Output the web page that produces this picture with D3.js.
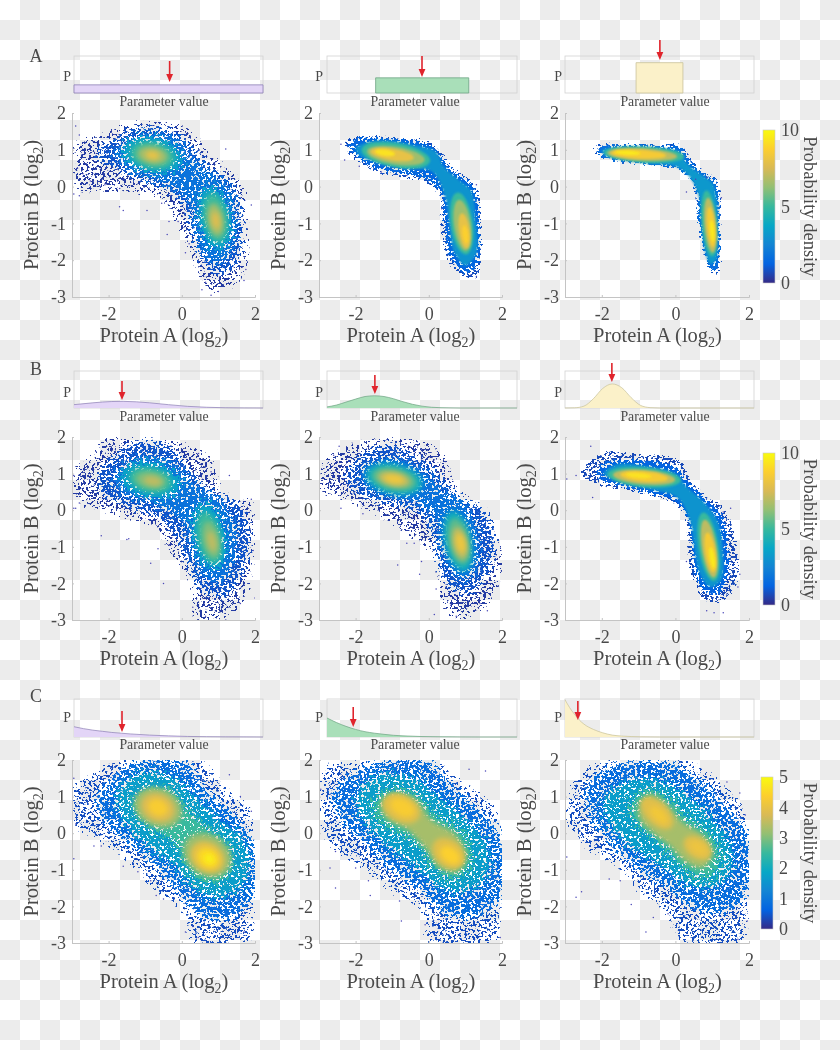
<!DOCTYPE html>
<html><head><meta charset="utf-8">
<style>html,body{margin:0;padding:0;background:#fff}svg{display:block;filter:blur(.45px)}text{font-family:"Liberation Serif",serif;fill:#4a4a4a}</style>
<script src="https://cdn.jsdelivr.net/npm/d3@7/dist/d3.min.js"></script></head><body>
<script>
// Density clouds are stored as iso-density outlines: [level, [x,y, x,y, ...]] and
// ellipses [level, cx, cy, rx, ry, tiltDeg], plus stray points. Grain on the fringes is only a render texture.
const xTicks=[-2,0,2], yTicks=[2,1,0,-1,-2,-3];
const rowLetters=["A","B","C"];
const barTicksAB=[0,5,10], barTicksC=[0,1,2,3,4,5];
const parula=["#352a87","#0363e1","#1485d4","#06a7c6","#38b99e","#92bf73","#d9ba56","#fcce2e","#f9fb0e"];
const priorFill=["#e3d5f7","#a9dfb9","#fbf1c9"], priorStroke=["#8d80b5","#6fa585","#c9c39b"];

const A1_prior=[[-3,.22],[2,.22]], A2_prior=[[-1.72,0],[-1.72,.41],[.73,.41],[.73,0]], A3_prior=[[-1.12,0],[-1.12,.82],[.12,.82],[.12,0]];
const B1_prior=[[-3,.09],[-2.5,.14],[-2,.175],[-1.7,.18],[-1,.14],[-.5,.09],[0,.045],[.5,.02],[1,.007],[1.5,.002],[2,0]];
const B2_prior=[[-3,.03],[-2.75,.08],[-2.5,.16],[-2.25,.24],[-2,.31],[-1.75,.33],[-1.5,.31],[-1.25,.25],[-1,.17],[-.75,.1],[-.5,.05],[-.25,.02],[0,.008],[.5,0],[2,0]];
const B3_prior=[[-3,0],[-2.75,.005],[-2.5,.05],[-2.25,.25],[-2,.53],[-1.75,.65],[-1.5,.55],[-1.25,.28],[-1,.07],[-.75,.01],[-.5,0],[2,0]];
const C1_prior=[[-3,.27],[-2.75,.22],[-2.5,.18],[-2.25,.15],[-2,.12],[-1.75,.1],[-1.5,.08],[-1,.05],[-.5,.03],[0,.015],[.5,.008],[1,.004],[2,0]];
const C2_prior=[[-3,.5],[-2.75,.38],[-2.5,.28],[-2.25,.2],[-2,.14],[-1.75,.1],[-1.5,.07],[-1.25,.045],[-1,.03],[-.5,.012],[0,.005],[.5,.002],[1,0],[2,0]];
const C3_prior=[[-3,.98],[-2.875,.77],[-2.75,.6],[-2.625,.45],[-2.5,.34],[-2.25,.2],[-2,.11],[-1.75,.05],[-1.5,.025],[-1.25,.012],[-1,.005],[-.5,0],[2,0]];
const arrowValues=[[-.47,-.5,-.49],[-1.73,-1.74,-1.76],[-1.73,-2.31,-2.66]];

const A1_contours=[
[.4,[-2.9,1.3,-2.3,1.4,-1.7,1.75,-.8,1.8,.3,1.6,.7,1,1.3,.55,1.75,0,1.85,-1,1.8,-2.2,1.5,-2.7,.9,-2.95,.45,-2.6,.2,-1.8,-.2,-1,-.6,-.4,-1.5,-.2,-2.9,-.1]],
[.9,[-2.3,1.1,-1.9,1.3,-1.4,1.6,-.7,1.65,0,1.45,.4,1,.8,.55,1.3,.25,1.6,-.3,1.7,-1.2,1.6,-2,1.2,-2.4,.7,-2.3,.4,-1.8,.2,-1.1,0,-.5,-.5,-.1,-1.2,.15,-1.9,.5,-2.3,.7]],
[1.8,[-1.9,.95,-1.5,1.3,-.8,1.5,-.1,1.3,.3,.8,.8,.35,1.3,0,1.5,-.8,1.45,-1.6,1.05,-2.1,.6,-1.9,.35,-1.2,.2,-.5,-.3,0,-1,.25,-1.6,.55]]];
const A1_ellipses=[[3.5,-.8,.85,.85,.5,12],[5,-.8,.85,.62,.36,12],[6.5,-.8,.85,.42,.24,10],[8,-.8,.85,.2,.12,10],
[3.5,.9,-.85,.45,.9,-10],[5,.92,-.85,.33,.68,-10],[6.5,.92,-.9,.22,.45,-10],[7.7,.93,-.92,.11,.24,-10]];
const A1_strays=[[-3,.7],[-2.9,1.65],[-2.85,.5],[-2.8,1.4],[-2.7,.35],[-2.95,-.2],[-2.8,-.25],[-2.5,.15],[-2.1,.05],[-1.7,-.05],[-1.6,-.65],[-1.7,-.55],[-.95,-.65],[-.55,-.45],[-.35,-.95],[-.1,-.95],[-.4,-1.3],[.1,-1.8],[.2,-1.55],[1.2,1.02],[.55,-2.8],[.65,-2.6],[.8,-2.95],[1,-2.85],[1.75,-2.25],[1.7,-2.55],[1.9,-.5]];

const A2_contours=[
[.8,[-2.35,1.15,-2.1,1.35,-1.5,1.4,-.6,1.35,0,1.25,.4,.9,.7,.5,1.15,.2,1.4,-.2,1.45,-1,1.45,-2,1.35,-2.45,1,-2.5,.55,-2.1,.35,-1.4,.3,-.8,.3,-.3,-.1,.1,-.8,.25,-1.5,.4,-2.1,.8]],
[1.4,[-2.2,1.1,-2,1.3,-1.4,1.33,-.6,1.28,0,1.15,.35,.8,.7,.4,1.1,.15,1.33,-.3,1.38,-1,1.38,-1.9,1.2,-2.3,.9,-2.3,.6,-1.95,.45,-1.3,.4,-.7,.35,-.2,-.1,.2,-.8,.35,-1.5,.5,-2,.85]],
[3,[-2,1.05,-1.4,1.25,-.5,1.15,.2,.95,.4,.55,.8,.2,1.15,-.1,1.28,-.9,1.3,-1.8,1,-2.15,.7,-1.8,.55,-1,.45,-.3,.1,.4,-.6,.5,-1.4,.65,-1.9,.85]]];
const A2_ellipses=[[5,-.9,.85,.95,.33,10],[6.5,-.9,.84,.8,.24,9],[8,-1,.87,.6,.16,9],[9.3,-1.2,.92,.28,.09,8],
[5,.9,-1,.3,.85,-8],[6.5,.92,-1.05,.23,.7,-8],[8,.97,-1.2,.15,.48,-8],[8.8,1,-1.3,.08,.25,-8]];
const A2_strays=[[-2.3,.72],[-2.4,1.15],[-1.9,.55],[-1.3,.4],[-.6,.3],[1.3,-2.45],[1.15,-2.4],[1.3,.05],[.35,-.6]];

const A3_contours=[
[.9,[-2.25,1,-2.1,1.17,-1.3,1.18,-.4,1.17,.2,1.15,.4,.8,.75,.45,1.1,.25,1.22,-.1,1.25,-1,1.25,-2,1.25,-2.3,1.05,-2.42,.85,-2.15,.65,-1.4,.55,-.8,.55,-.3,.4,.1,.1,.4,-.4,.52,-1.2,.6,-2,.75]],
[1.6,[-2.15,.98,-2,1.12,-1.3,1.13,-.4,1.11,.15,1.08,.35,.78,.7,.4,1.05,.2,1.17,-.15,1.2,-1,1.2,-1.95,1.15,-2.25,1,-2.3,.85,-2,.7,-1.35,.6,-.8,.6,-.3,.43,.15,.1,.46,-.4,.56,-1.2,.65,-2,.8]],
[3.2,[-2,.98,-1.3,1.06,-.4,1.03,.08,.95,.3,.65,.7,.32,1,.1,1.13,-.4,1.15,-1.3,1.1,-2,.95,-2.1,.8,-1.7,.7,-.9,.65,-.3,.4,.25,0,.55,-.6,.62,-1.3,.72,-1.9,.85]]];
const A3_ellipses=[[5,-.85,.87,1.1,.22,3],[7,-.9,.87,.95,.17,3],[8.5,-1,.88,.75,.12,3],[9.5,-1.3,.92,.35,.06,3],
[5,.92,-1,.2,.9,-5],[7,.95,-1.05,.16,.75,-5],[8.5,.97,-1.1,.11,.55,-5],[9.5,1,-1.2,.06,.3,-5]];
const A3_strays=[[.3,-.15],[.85,.25],[.55,.2],[1.25,-.3]];

const B1_contours=[
[.4,[-2.95,1.2,-2.5,1.5,-2.2,1.95,-1,2,0,1.9,.8,1.5,1.2,.5,1.95,.3,2,-1.5,1.7,-2.6,1.1,-3,.3,-3,.2,-2,-.3,-1.3,-.7,-.6,-1.7,-.2,-2.95,.2]],
[.9,[-2.3,1,-1.9,1.5,-1.2,1.9,-.3,1.75,.2,1.2,.9,.5,1.6,.2,1.9,-.8,1.7,-1.7,1.2,-2.4,.5,-2.2,.1,-1.4,-.2,-.7,-.8,-.2,-1.6,.1,-2.2,.4]],
[1.8,[-1.9,.95,-1.5,1.35,-.8,1.5,-.1,1.25,.4,.7,1,.35,1.45,-.3,1.5,-1.2,1.2,-1.9,.7,-1.95,.25,-1.2,.1,-.5,-.4,0,-1.1,.25,-1.7,.5]]];
const B1_ellipses=[[3.5,-.85,.82,.85,.5,12],[5,-.85,.82,.6,.34,12],[6,-.85,.82,.42,.22,10],[7,-.8,.8,.25,.13,10],
[3.5,.75,-.7,.45,.95,-12],[5,.75,-.75,.32,.72,-12],[6,.8,-.8,.22,.5,-12],[7,.82,-.85,.12,.28,-12]];
const B1_strays=[[-2.95,.05],[-2.9,.05],[-2.95,.95],[-2.8,.2],[-2.2,-.7],[-1.5,-.8],[-1.45,-.78],[-.85,-1.45],[-.65,-1.05],[-.5,-2],[-.35,-.95],[1.3,.95],[.75,1.45],[.8,1.05],[.45,1.55],[1.9,.3],[1.95,-1.1],[.3,-2.65],[.65,-2.9],[1.2,-3],[1.6,-2.55],[2,-2.4]];

const B2_contours=[
[.4,[-3,1.2,-2.6,1.6,-2,1.9,-1.2,2,0,1.9,.5,1.45,.8,.6,1.6,.1,2,-1,1.95,-2,1.6,-2.7,1,-3,.5,-2.9,.2,-2,.05,-1.2,-.5,-.8,-1.2,-.3,-2.2,.2,-3,.5]],
[.9,[-2.3,1,-1.9,1.5,-1.1,1.85,-.3,1.5,.3,1,.9,.35,1.5,.05,1.85,-1,1.6,-1.8,1.15,-2.3,.6,-2.2,.25,-1.6,.1,-.8,-.3,-.1,-1,.1,-1.7,.3,-2.2,.6]],
[1.8,[-1.9,1,-1.5,1.35,-.8,1.4,-.1,1.05,.4,.55,1,.2,1.35,-.6,1.35,-1.5,1,-1.95,.55,-1.6,.3,-.9,.15,-.2,-.4,.2,-1.1,.35,-1.7,.6]]];
const B2_ellipses=[[4,-.95,.85,.8,.42,12],[5.5,-.95,.85,.62,.3,12],[7,-.95,.85,.45,.2,12],[8.3,-.95,.85,.28,.12,10],
[4,.8,-.85,.38,.85,-12],[5.5,.82,-.85,.28,.65,-12],[7,.85,-.9,.2,.45,-12],[8.3,.87,-.9,.12,.27,-12]];
const B2_strays=[[-2.45,1.75],[-2.6,1.5],[-2.4,.05],[-1.8,-.1],[-.6,-.9],[-.4,-.9],[-.85,-1.5],[-.2,-1.4],[-.25,-1.75],[.2,-2.15],[.6,-2.6],[.15,-2.85],[.75,-2.9],[1.6,-2.75],[1.4,-2.55]];

const B3_contours=[
[.7,[-2.6,1,-2.4,1.3,-1.9,1.6,-1,1.55,.1,1.4,.4,.85,.8,.45,1.3,.1,1.65,-.8,1.7,-1.9,1.3,-2.5,.8,-2.5,.5,-2,.35,-1.4,.3,-.6,.15,0,-.4,.3,-1.2,.5,-2,.65,-2.5,.85]],
[1.3,[-2.15,1,-1.9,1.3,-1,1.38,0,1.2,.35,.8,.8,.35,1.25,-.1,1.45,-1,1.4,-1.9,1.15,-2.3,.8,-2.25,.55,-1.8,.45,-1,.35,-.3,0,.25,-.7,.45,-1.5,.65,-2,.8]],
[3,[-1.95,1,-1.6,1.25,-.8,1.2,0,1,.3,.65,.8,.2,1.15,-.3,1.3,-1.2,1.25,-1.9,.95,-2.1,.65,-1.7,.5,-.9,.4,-.3,.05,.35,-.6,.55,-1.4,.75]]];
const B3_ellipses=[[5,-.85,.9,1,.27,5],[7,-.85,.9,.85,.2,5],[8.5,-.85,.92,.65,.14,5],[9.3,-1,.95,.35,.07,5],
[5,.9,-1,.27,.95,-9],[7,.92,-1.05,.2,.8,-9],[8.5,.95,-1.15,.14,.55,-9],[9.5,1,-1.3,.07,.3,-9]];
const B3_strays=[[-2.3,1.75],[-2.95,.85],[-2.7,.95],[-2.25,.35],[.85,-2.75],[1.05,-2.8],[1.3,-2.8],[1.75,-1.75],[1.7,-2.1],[.3,-1.4],[1.5,.05],[1.3,-.05]];

const C1_contours=[
[.4,[-3,1.4,-2.5,1.6,-2,2,.6,2,1.2,1.3,1.9,.7,2,0,2,-2.5,1.9,-3,.2,-3,0,-2.2,-.8,-1.6,-1.5,-.8,-2.5,-.1,-3,.1]],
[.8,[-2.4,.9,-2,1.5,-1.3,2,.2,1.95,.7,1.2,1.5,.5,2,-.3,2,-1.7,1.3,-2.4,.5,-2.3,-.1,-1.7,-.8,-.9,-1.5,-.3,-2.1,.2]],
[1.7,[-1.8,1.05,-1.2,1.65,-.3,1.6,.4,1,1,.4,1.7,-.2,1.8,-1.2,1.2,-1.75,.4,-1.6,-.2,-.9,-.9,-.4,-1.5,.2]],
[2.5,[-1.35,.9,-.9,1.25,-.3,1.2,.2,.6,.8,.1,1.35,-.4,1.3,-1.1,.7,-1.4,.15,-1,-.2,-.3,-.8,.1,-1.2,.4]]];
const C1_ellipses=[[3.2,-.65,.7,.68,.52,25],[3.8,-.65,.7,.48,.38,25],[4.3,-.65,.7,.28,.22,25],
[3.2,.7,-.6,.7,.55,35],[3.9,.7,-.65,.5,.4,35],[4.5,.72,-.68,.32,.26,35],[4.85,.75,-.7,.15,.12,35]];
const C1_strays=[[-2.95,1.5],[-2.95,-.7],[-2.9,.25],[-2.4,-.35],[-2.2,-.35],[-1.6,-.9],[-1.2,-1.05],[-.85,-1.3],[-.7,-1.7],[-.5,-1.8],[.1,-2.7],[.3,-2.55],[.45,-2.85],[1.3,1.6],[1.6,1],[1.9,.6],[1.7,-2.7]];

const C2_contours=[
[.4,[-3,1.5,-2.9,1.9,-2,2,.2,2,1,1.4,1.8,.8,2,.2,2,-2,1.9,-3,-.1,-3,-.2,-2.2,-1,-1.7,-1.8,-1,-2.8,-.3,-3,.5]],
[.8,[-2.7,1.1,-2.2,1.6,-1.3,2,0,2,.7,1.3,1.4,.7,2,-.1,2,-1.8,1.3,-2.3,.5,-2.3,-.3,-1.6,-1.1,-1,-1.8,-.3,-2.4,.3]],
[1.7,[-2,1,-1.4,1.6,-.5,1.55,.3,1,1,.4,1.6,-.3,1.6,-1.2,1,-1.6,.3,-1.5,-.4,-.9,-1.1,-.4,-1.7,.2]],
[2.5,[-1.55,.8,-1.1,1.2,-.4,1.1,.2,.5,.9,.05,1.2,-.7,.8,-1.25,.2,-1.05,-.25,-.4,-.8,0,-1.35,.3]],
[3.3,[-1.3,.8,-.95,1.1,-.4,.95,.1,.35,.7,0,1,-.6,.75,-1.05,.3,-.95,-.1,-.4,-.6,.1,-1.15,.4]]];
const C2_ellipses=[[3.9,-.75,.68,.55,.36,28],[4.3,-.72,.7,.35,.22,28],[3.9,.55,-.55,.5,.36,40],[4.4,.58,-.6,.3,.2,40]];
const C2_strays=[[-2.95,1.2],[-2.7,-.95],[-2.55,-.5],[-2.55,-1.5],[-2,-.95],[-1.65,-1.3],[-1.6,-1.7],[-1.2,-1],[-1.05,-1.1],[-.8,-1.85],[-.75,-2.4],[-.4,-1.75],[-.1,-2.5],[1.55,1.7],[1.1,1.75],[1.65,.7],[1.95,-2.85]];

const C3_contours=[
[.4,[-3,1,-2.6,1.7,-2,2,.4,2,1.4,1.3,2,.5,2,-1.5,1.9,-3,.1,-3,-.3,-2.2,-1,-1.7,-1.5,-1,-2.4,-.5,-3,.2]],
[.8,[-2.5,1.1,-2.2,1.6,-1.4,2,-.2,2,.8,1.4,1.5,.7,2,0,2,-1.6,1.4,-2.2,.5,-2.1,-.3,-1.5,-1.1,-1,-1.8,-.3,-2.3,.3]],
[1.7,[-2,.9,-1.4,1.4,-.6,1.5,.3,1.05,1,.4,1.5,-.3,1.5,-1.1,1,-1.5,.3,-1.4,-.4,-.9,-1.1,-.45,-1.7,.1]],
[2.5,[-1.25,.75,-.8,1.2,-.25,1.05,.3,.45,.95,0,1.25,-.65,.9,-1.25,.35,-1.1,-.15,-.6,-.65,-.1,-1.1,.25]],
[3.3,[-1,.75,-.7,1.05,-.3,.85,.2,.3,.75,-.05,1,-.55,.75,-.95,.3,-.8,-.15,-.35,-.6,0,-.95,.35]]];
const C3_ellipses=[[3.9,-.5,.55,.55,.3,45],[4.2,-.45,.5,.3,.15,45],[3.9,.6,-.4,.42,.28,35],[4.1,.62,-.4,.25,.14,35]];
const C3_strays=[[-2.95,-.65],[-3,-1],[-2.7,-1.75],[-2.55,-1.6],[-1.8,-1.25],[-1.5,-1.3],[-1.2,-1.95],[-.8,-2.7],[-.6,-2.3],[-.2,-2.2],[1.4,1.4],[1.75,1.1],[1.9,.5],[1.95,-2.4],[1.7,-2.9]];

const panels=[
[[A1_prior,A1_contours,A1_ellipses,A1_strays],[A2_prior,A2_contours,A2_ellipses,A2_strays],[A3_prior,A3_contours,A3_ellipses,A3_strays]],
[[B1_prior,B1_contours,B1_ellipses,B1_strays],[B2_prior,B2_contours,B2_ellipses,B2_strays],[B3_prior,B3_contours,B3_ellipses,B3_strays]],
[[C1_prior,C1_contours,C1_ellipses,C1_strays],[C2_prior,C2_contours,C2_ellipses,C2_strays],[C3_prior,C3_contours,C3_ellipses,C3_strays]]];
const rowMax=[10,10,5];

// layout
const W=840,H=1050;
const colX=[[72,255],[319,502],[565,749]], rowY=[[113,297],[437,620],[760,943]];
const boxX=[[74,263],[327,517],[565,754]], boxY=[[56,93],[371,408],[699,737]];
const barX=[[763,775],[763,775],[761,773]], barY=[[130,283],[453,605],[777,929]];
const arrowTail=[[61,56,40],[381,375,363],[711,707,701]];
const arrowTip=[[82,77,60],[400,394,382],[732,727,720]];
const letterY=[62,375,702], pBase=[81,397,722], pRight=[71,323,562], paramX=[164,415,665], paramBase=[106,421,749];

const svg=d3.select("body").append("svg").attr("width",W).attr("height",H);
const defs=svg.append("defs");
const chk=defs.append("pattern").attr("id","chk").attr("width",40).attr("height",40).attr("patternUnits","userSpaceOnUse");
chk.append("rect").attr("width",40).attr("height",40).attr("fill","#fff");
[[20,0],[0,20]].forEach(p=>chk.append("rect").attr("x",p[0]).attr("y",p[1]).attr("width",20).attr("height",20).attr("fill","#ececec"));
svg.append("rect").attr("width",W).attr("height",H).attr("fill","url(#chk)");

// Render texture: the outline's blurred alpha plus a contrast-stretched noise field, thresholded,
// so the grain thins out toward an outline.
let fid=0;
function grain(color,spread,c,seed){
  const id="gr"+(fid++);
  const f=defs.append("filter").attr("id",id).attr("x","-20%").attr("y","-20%").attr("width","140%").attr("height","140%").attr("color-interpolation-filters","sRGB");
  f.append("feGaussianBlur").attr("in","SourceAlpha").attr("stdDeviation",spread).attr("result","a0");
  f.append("feColorMatrix").attr("in","a0").attr("type","matrix").attr("values","0 0 0 0 0 0 0 0 0 0 0 0 0 0 0 0 0 0 .85 0").attr("result","a");
  f.append("feTurbulence").attr("type","fractalNoise").attr("baseFrequency","0.37 0.41").attr("numOctaves",2).attr("seed",seed).attr("result","n0");
  f.append("feColorMatrix").attr("in","n0").attr("type","matrix").attr("values","0 0 0 0 0 0 0 0 0 0 0 0 0 0 0 2.4 0 0 0 -.7").attr("result","n");
  f.append("feComposite").attr("in","a").attr("in2","n").attr("operator","arithmetic").attr("k1",0).attr("k2",1).attr("k3",1).attr("k4",-c).attr("result","sum");
  f.append("feColorMatrix").attr("in","sum").attr("type","matrix").attr("values","0 0 0 0 0 0 0 0 0 0 0 0 0 0 0 0 0 0 18 0").attr("result","m0");
  f.append("feGaussianBlur").attr("in","m0").attr("stdDeviation",.3).attr("result","m");
  f.append("feFlood").attr("flood-color",color).attr("result","fl");
  f.append("feComposite").attr("in","fl").attr("in2","m").attr("operator","in");
  return `url(#${id})`;
}
defs.append("filter").attr("id","soft").attr("x","-20%").attr("y","-20%").attr("width","140%").attr("height","140%").append("feGaussianBlur").attr("stdDeviation",2.4);
defs.append("filter").attr("id","softT").attr("x","-20%").attr("y","-20%").attr("width","140%").attr("height","140%").append("feGaussianBlur").attr("stdDeviation",1.3);

const stop=(i,n)=>i/(n-1);
panels.forEach((row,r)=>{
  const max=rowMax[r];
  const color=d3.scaleSequential(d3.piecewise(d3.interpolateRgb,parula)).domain([0,max]);
  svg.append("text").attr("x",36).attr("y",letterY[r]).attr("text-anchor","middle").attr("font-size",18).attr("fill","#333").text(rowLetters[r]);

  row.forEach((p,c)=>{
    const [prior,contours,ellipses,strays]=p;
    const x=d3.scaleLinear().domain([-3,2]).range(colX[c]);
    const y=d3.scaleLinear().domain([-3,2]).range([rowY[r][1],rowY[r][0]]);
    const g=svg.append("g");
    // prior box
    const bx=d3.scaleLinear().domain([-3,2]).range(boxX[c]);
    const by=d3.scaleLinear().domain([0,1]).range([boxY[r][1],boxY[r][0]]);
    g.append("rect").attr("x",boxX[c][0]).attr("y",boxY[r][0]).attr("width",boxX[c][1]-boxX[c][0]).attr("height",boxY[r][1]-boxY[r][0]).attr("fill","none").attr("stroke","#d2d2d2").attr("stroke-width",.8);
    const curve=(r===0)?d3.curveLinear:d3.curveMonotoneX;
    const ar=d3.area().x(d=>bx(d[0])).y0(by(0)).y1(d=>by(d[1])).curve(curve);
    const ln=d3.line().x(d=>bx(d[0])).y(d=>by(d[1])).curve(curve);
    const fillP=g.append("path").datum(prior).attr("d",ar).attr("fill",priorFill[c]);
    if(r===0) fillP.attr("stroke",priorStroke[c]).attr("stroke-width",.8);
    else g.append("path").datum(prior).attr("d",ln).attr("fill","none").attr("stroke",priorStroke[c]).attr("stroke-width",.9).attr("stroke-opacity",.8);
    g.append("text").attr("x",pRight[c]).attr("y",pBase[r]).attr("text-anchor","end").attr("font-size",14).attr("fill","#333").text("P");
    g.append("text").attr("x",paramX[c]).attr("y",paramBase[r]).attr("text-anchor","middle").attr("font-size",13.8).attr("fill","#333").text("Parameter value");
    // arrow
    const ax=bx(arrowValues[r][c]), t0=arrowTail[r][c], t1=arrowTip[r][c];
    g.append("line").attr("x1",ax).attr("x2",ax).attr("y1",t0).attr("y2",t1-5).attr("stroke","#e0242c").attr("stroke-width",1.6);
    g.append("path").attr("d",d3.line()([[ax-3.4,t1-8],[ax+3.4,t1-8],[ax,t1]])+"Z").attr("fill","#e0242c");

    // density cloud
    const clipId=`clip${r}${c}`;
    defs.append("clipPath").attr("id",clipId).append("rect").attr("x",colX[c][0]).attr("y",rowY[r][0]).attr("width",colX[c][1]-colX[c][0]).attr("height",rowY[r][1]-rowY[r][0]);
    const cloud=g.append("g").attr("clip-path",`url(#${clipId})`);
    const narrow=(r===0&&c>0)||(r===1&&c===2);
    const seed=r*3+c+1, spread=narrow?1.8:5.5;
    const outline=d3.line().x(d=>x(d[0])).y(d=>y(d[1])).curve(d3.curveCatmullRomClosed.alpha(.5));
    const pts=a=>d3.range(0,a.length,2).map(i=>[a[i],a[i+1]]);
    const thresholds=narrow?[1.35,1.08]:[1.42,1.18,1.04,1.01];
    contours.forEach((k,i)=>{
      const grained=narrow?i<2:i<4;
      const flt=grained?grain(color(k[0]),i===0?spread:spread*.8,thresholds[i],seed):(narrow?"url(#softT)":"url(#soft)");
      const node=cloud.append("g").attr("filter",flt).append("path").attr("d",outline(pts(k[1])));
      node.attr("fill",color(k[0]));
    });
    const sx=Math.abs(x(1)-x(0)), sy=Math.abs(y(1)-y(0));
    ellipses.slice().sort((a,b)=>a[0]-b[0]).forEach(e=>{
      const rel=e[0]/max, flt=(!narrow&&rel<.4)?grain(color(e[0]),3,1.01,seed):(narrow?"url(#softT)":"url(#soft)");
      cloud.append("g").attr("filter",flt).append("ellipse").attr("rx",e[3]*sx).attr("ry",e[4]*sy)
        .attr("transform",`translate(${x(e[1])},${y(e[2])}) rotate(${e[5]})`).attr("fill",color(e[0]));
    });
    cloud.append("g").selectAll("circle").data(strays).join("circle").attr("cx",d=>x(d[0])).attr("cy",d=>y(d[1])).attr("r",.75).attr("fill","#4a48b8");

    // axes
    const ax1=g.append("g").attr("transform",`translate(0,${rowY[r][1]})`).call(d3.axisBottom(x).tickValues(xTicks).tickSize(-2).tickPadding(10).tickFormat(String));
    const ax2=g.append("g").attr("transform",`translate(${colX[c][0]},0)`).call(d3.axisLeft(y).tickValues(yTicks).tickSize(-2).tickPadding(6).tickFormat(String));
    [ax1,ax2].forEach(a=>{a.selectAll("path,line").attr("stroke","#c4c4c4");a.selectAll("text").attr("font-size",18).attr("font-family",'"Liberation Serif",serif').attr("fill","#4a4a4a");});

    // labels
    const xl=g.append("text").attr("x",(colX[c][0]+colX[c][1])/2+.5).attr("y",rowY[r][1]+45).attr("text-anchor","middle").attr("font-size",20.5);
    xl.append("tspan").text("Protein A (log");xl.append("tspan").attr("dy",5).attr("font-size",14).text("2");xl.append("tspan").attr("dy",-5).text(")");
    const yl=g.append("text").attr("transform",`translate(${colX[c][0]-34},${(rowY[r][0]+rowY[r][1])/2}) rotate(-90)`).attr("text-anchor","middle").attr("font-size",20.5);
    yl.append("tspan").text("Protein B (log");yl.append("tspan").attr("dy",5).attr("font-size",14).text("2");yl.append("tspan").attr("dy",-5).text(")");
  });

  // colour bar
  const gid=`bar${r}`;
  const lg=defs.append("linearGradient").attr("id",gid).attr("x1",0).attr("x2",0).attr("y1",1).attr("y2",0);
  parula.forEach((col,i)=>lg.append("stop").attr("offset",stop(i,parula.length)).attr("stop-color",col));
  svg.append("rect").attr("x",barX[r][0]).attr("y",barY[r][0]).attr("width",barX[r][1]-barX[r][0]).attr("height",barY[r][1]-barY[r][0]).attr("fill",`url(#${gid})`).attr("stroke","#c8c8c8").attr("stroke-width",.6);
  const bs=d3.scaleLinear().domain([0,max]).range([barY[r][1],barY[r][0]]);
  const ba=svg.append("g").attr("transform",`translate(${barX[r][1]},0)`).call(d3.axisRight(bs).tickValues(r<2?barTicksAB:barTicksC).tickSize(0).tickPadding(6).tickFormat(String));
  ba.select("path").remove();
  ba.selectAll("text").attr("font-size",18).attr("font-family",'"Liberation Serif",serif').attr("fill","#4a4a4a");
  svg.append("text").attr("transform",`translate(${804},${(barY[r][0]+barY[r][1])/2}) rotate(90)`).attr("text-anchor","middle").attr("font-size",18.5).text("Probability density");
});
</script></body></html>
